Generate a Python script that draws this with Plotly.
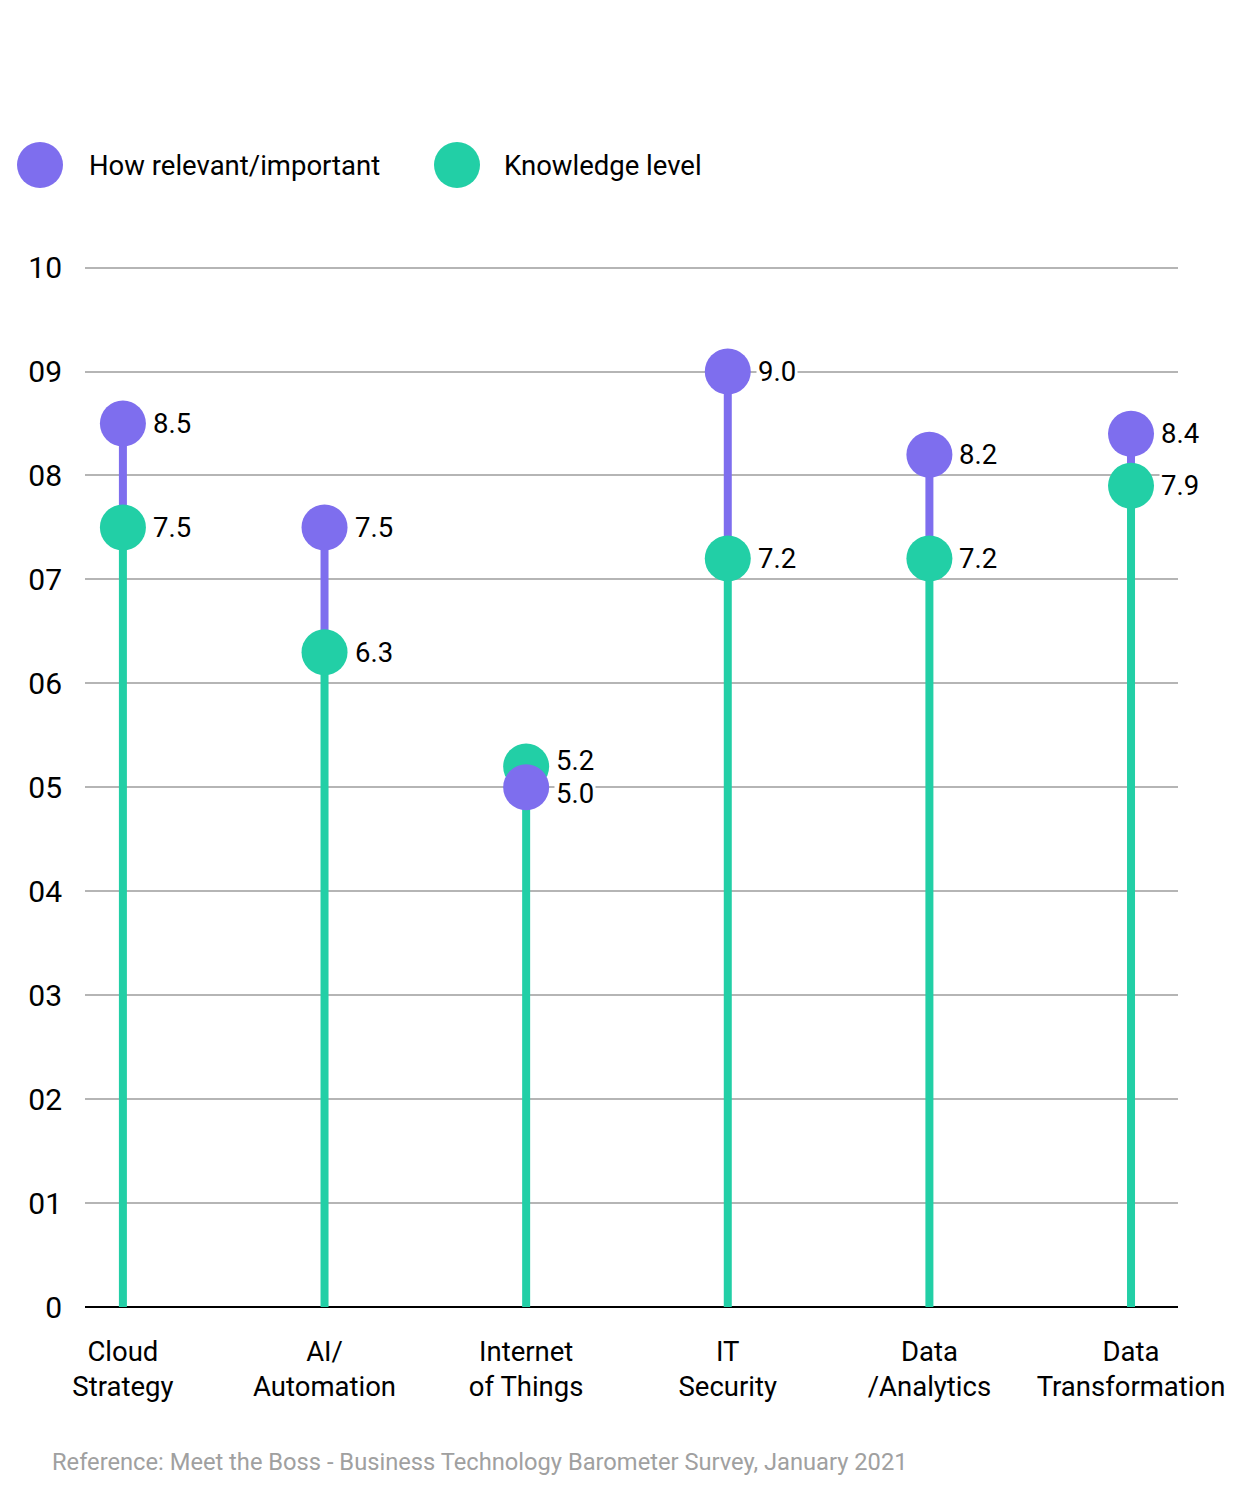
import plotly.graph_objects as go

# survey scores per technology area
categories = ["Cloud<br>Strategy", "AI/<br>Automation", "Internet<br>of Things",
              "IT<br>Security", "Data<br>/Analytics", "Data<br>Transformation"]
relevance = [8.5, 7.5, 5.0, 9.0, 8.2, 8.4]
knowledge = [7.5, 6.3, 5.2, 7.2, 7.2, 7.9]

y_ticks = [0, 1, 2, 3, 4, 5, 6, 7, 8, 9, 10]
y_ticktext = ["0", "01", "02", "03", "04", "05", "06", "07", "08", "09", "10"]

PURPLE = "#7E6EEE"
GREEN = "#22CFA6"
FONT = "Roboto"

# page is drawn 8px in from the window corner
L, T, R, B = 77, 258, 80, 201
PW, PH = 1250 - L - R, 1500 - T - B

xs = list(range(len(categories)))

fig = go.Figure()

# stems: green from zero to knowledge, purple from knowledge up to relevance
for i in xs:
    fig.add_trace(go.Scatter(x=[i, i], y=[0, knowledge[i]], mode="lines",
                             line=dict(color=GREEN, width=8), hoverinfo="skip",
                             showlegend=False))
    if relevance[i] > knowledge[i]:
        fig.add_trace(go.Scatter(x=[i, i], y=[knowledge[i], relevance[i]], mode="lines",
                                 line=dict(color=PURPLE, width=8), hoverinfo="skip",
                                 showlegend=False))

fig.add_trace(go.Scatter(x=xs, y=knowledge, mode="markers", name="Knowledge level",
                         marker=dict(color=GREEN, size=46), showlegend=False))
fig.add_trace(go.Scatter(x=xs, y=relevance, mode="markers", name="How relevant/important",
                         marker=dict(color=PURPLE, size=46), showlegend=False))

# value labels next to the markers (pushed apart when the two are close)
for i in xs:
    close = abs(relevance[i] - knowledge[i]) < 0.3
    for v, other in ((relevance[i], knowledge[i]), (knowledge[i], relevance[i])):
        shift = 0
        if close:
            shift = 6 if v > other else -6
        fig.add_annotation(x=i, y=v, text="%.1f" % v, showarrow=False,
                           xanchor="left", yanchor="middle", xshift=28, yshift=shift,
                           bgcolor="white", borderpad=1,
                           font=dict(family=FONT, size=27.5, color="black"))

# legend drawn by hand so the dots can be big
legend_items = [("How relevant/important", PURPLE, 40, 87),
                ("Knowledge level", GREEN, 457, 502)]
for label, col, cx, tx in legend_items:
    fig.add_shape(type="circle", xref="paper", yref="paper",
                  xsizemode="pixel", ysizemode="pixel",
                  xanchor=(cx - 8 - L) / PW, yanchor=(T + PH - (165 - 8)) / PH,
                  x0=-23, x1=23, y0=-23, y1=23,
                  fillcolor=col, line=dict(width=0))
    fig.add_annotation(xref="paper", yref="paper", x=(tx - 8 - L) / PW,
                       y=(T + PH - (165 - 8)) / PH, text=label, showarrow=False,
                       xanchor="left", yanchor="middle",
                       font=dict(family=FONT, size=27.5, color="black"))

fig.add_annotation(xref="paper", yref="paper", x=(50 - 8 - L) / PW,
                   y=(T + PH - (1462 - 8)) / PH,
                   text="Reference: Meet the Boss - Business Technology Barometer Survey, January 2021",
                   showarrow=False, xanchor="left", yanchor="middle",
                   font=dict(family=FONT, size=23.7, color="#a0a0a0"))

fig.update_layout(
    width=1250, height=1500,
    margin=dict(l=L, r=R, t=T, b=B),
    paper_bgcolor="white", plot_bgcolor="white",
    font=dict(family=FONT, size=27.5, color="black"),
    xaxis=dict(range=[-0.188, 5.233], tickvals=xs, ticktext=categories,
               showgrid=False, zeroline=False, showline=False, ticks="",
               tickfont=dict(size=27.5), ticklabelstandoff=25),
    yaxis=dict(range=[0, 10.015], tickvals=y_ticks, ticktext=y_ticktext,
               showgrid=True, gridcolor="#b5b5b5", gridwidth=1.5,
               zeroline=True, zerolinecolor="black", zerolinewidth=2,
               showline=False, ticks="", tickfont=dict(size=30),
               ticklabelstandoff=22),
)

fig.write_html("out.html")
